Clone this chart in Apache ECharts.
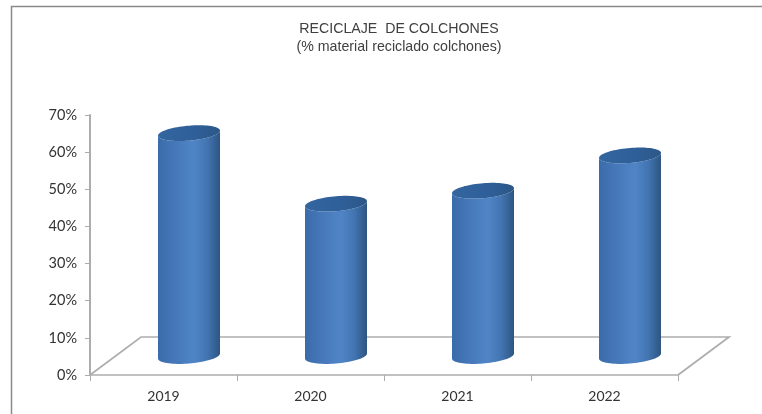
<!DOCTYPE html>
<html>
<head>
<meta charset="utf-8">
<style>html,body{margin:0;padding:0;background:#fff}#chart{width:762px;height:414px}</style>
<script src="https://cdn.jsdelivr.net/npm/echarts@6/dist/echarts.min.js"></script>
</head>
<body>
<div id="chart"></div>
<script>
const titleLines = ['RECICLAJE  DE COLCHONES', '(% material reciclado colchones)'];
const categories = ['2019', '2020', '2021', '2022'];
const recycledPercent = [60, 41, 44.5, 54];
const yTicks = { min: 0, max: 70, interval: 10 };

// Oblique projection of the chart floor, in pixels
const FLOOR_DX = 51;
const FLOOR_DY = 38;
const AXIS_COLOR = '#adadad';
const TEXT_COLOR = '#333333';
const CYL_HALF_W = 31;
const CYL_HALF_H = 7.5;
const CYL_TILT = 2.5;

const chart = echarts.init(document.getElementById('chart'), null, { renderer: 'canvas' });

// Points around a slightly tilted ellipse; t runs from fromT to toT
function ellipseArc(cx, cy, fromT, toT, steps) {
  const pts = [];
  for (let i = 0; i <= steps; i++) {
    const t = fromT + (toT - fromT) * i / steps;
    pts.push([
      cx + CYL_HALF_W * Math.cos(t),
      cy + CYL_HALF_H * Math.sin(t) - CYL_TILT * Math.cos(t)
    ]);
  }
  return pts;
}

function renderFloor(params) {
  const r = params.coordSys;
  const bottom = r.y + r.height;
  const right = r.x + r.width;
  return {
    type: 'polyline',
    shape: {
      points: [
        [r.x, bottom],
        [r.x + FLOOR_DX, bottom - FLOOR_DY],
        [right + FLOOR_DX, bottom - FLOOR_DY],
        [right, bottom]
      ]
    },
    style: { stroke: AXIS_COLOR, lineWidth: 1.7, fill: null },
    silent: true
  };
}

function renderCylinder(params, api) {
  const top = api.coord([api.value(0), api.value(1)]);
  const base = api.coord([api.value(0), 0]);
  const cx = top[0] + FLOOR_DX / 2;
  const topY = top[1] - FLOOR_DY / 2;
  const baseY = base[1] - FLOOR_DY / 2;
  // Side wall: front half of the base, then back up to the top rim
  const wall = ellipseArc(cx, baseY, 0, Math.PI, 40)
    .concat(ellipseArc(cx, topY, Math.PI, 0, 40));
  const cap = ellipseArc(cx, topY, 0, Math.PI * 2, 80);
  return {
    type: 'group',
    children: [
      {
        type: 'polygon',
        shape: { points: wall },
        style: {
          fill: new echarts.graphic.LinearGradient(0, 0, 1, 0, [
            { offset: 0, color: '#3a6cab' },
            { offset: 0.25, color: '#4577b8' },
            { offset: 0.58, color: '#4f85c7' },
            { offset: 0.8, color: '#4274b0' },
            { offset: 0.94, color: '#335e90' },
            { offset: 1, color: '#2f5680' }
          ])
        }
      },
      {
        type: 'polygon',
        shape: { points: cap },
        style: {
          fill: new echarts.graphic.LinearGradient(0, 0, 1, 0, [
            { offset: 0, color: '#33659f' },
            { offset: 0.6, color: '#2f5f98' },
            { offset: 1, color: '#2c5787' }
          ])
        }
      }
    ]
  };
}

chart.setOption({
  animation: false,
  backgroundColor: '#ffffff',
  title: {
    text: titleLines.join('\n'),
    left: 394,
    top: 15,
    textAlign: 'center',
    textStyle: {
      fontFamily: '"Liberation Sans", Arial, sans-serif',
      fontSize: 14.2,
      fontWeight: 'normal',
      color: '#404040',
      lineHeight: 18
    }
  },
  // Outer frame, open towards the right and bottom
  graphic: [{
    type: 'polyline',
    silent: true,
    shape: { points: [[11.5, 414], [11.5, 6.5], [762, 6.5]] },
    style: { stroke: '#8a8a8a', lineWidth: 1.5, fill: null }
  }],
  grid: { left: 90, right: 84, top: 115, bottom: 39 },
  xAxis: {
    type: 'category',
    data: categories,
    axisLine: { lineStyle: { color: AXIS_COLOR, width: 1.7 } },
    axisTick: { show: true, length: 6, alignWithLabel: false, lineStyle: { color: AXIS_COLOR, width: 1 } },
    axisLabel: {
      margin: 14,
      fontFamily: 'Lato, "Open Sans", sans-serif',
      fontSize: 14,
      color: TEXT_COLOR
    }
  },
  yAxis: {
    type: 'value',
    min: yTicks.min,
    max: yTicks.max,
    interval: yTicks.interval,
    splitLine: { show: false },
    axisLine: { show: true, lineStyle: { color: AXIS_COLOR, width: 2 } },
    axisTick: { show: true, length: 5, lineStyle: { color: AXIS_COLOR, width: 1 } },
    axisLabel: {
      margin: 13,
      formatter: '{value}%',
      fontFamily: 'Lato, "Open Sans", sans-serif',
      fontSize: 14.5,
      color: TEXT_COLOR
    }
  },
  series: [
    {
      type: 'custom',
      name: 'floor',
      data: [[0, 0]],
      renderItem: renderFloor,
      clip: false,
      silent: true,
      z: 1
    },
    {
      type: 'custom',
      name: 'Reciclaje',
      data: recycledPercent.map((v, i) => [i, v]),
      encode: { x: 0, y: 1 },
      renderItem: renderCylinder,
      clip: false,
      z: 3
    }
  ]
});
</script>
</body>
</html>
